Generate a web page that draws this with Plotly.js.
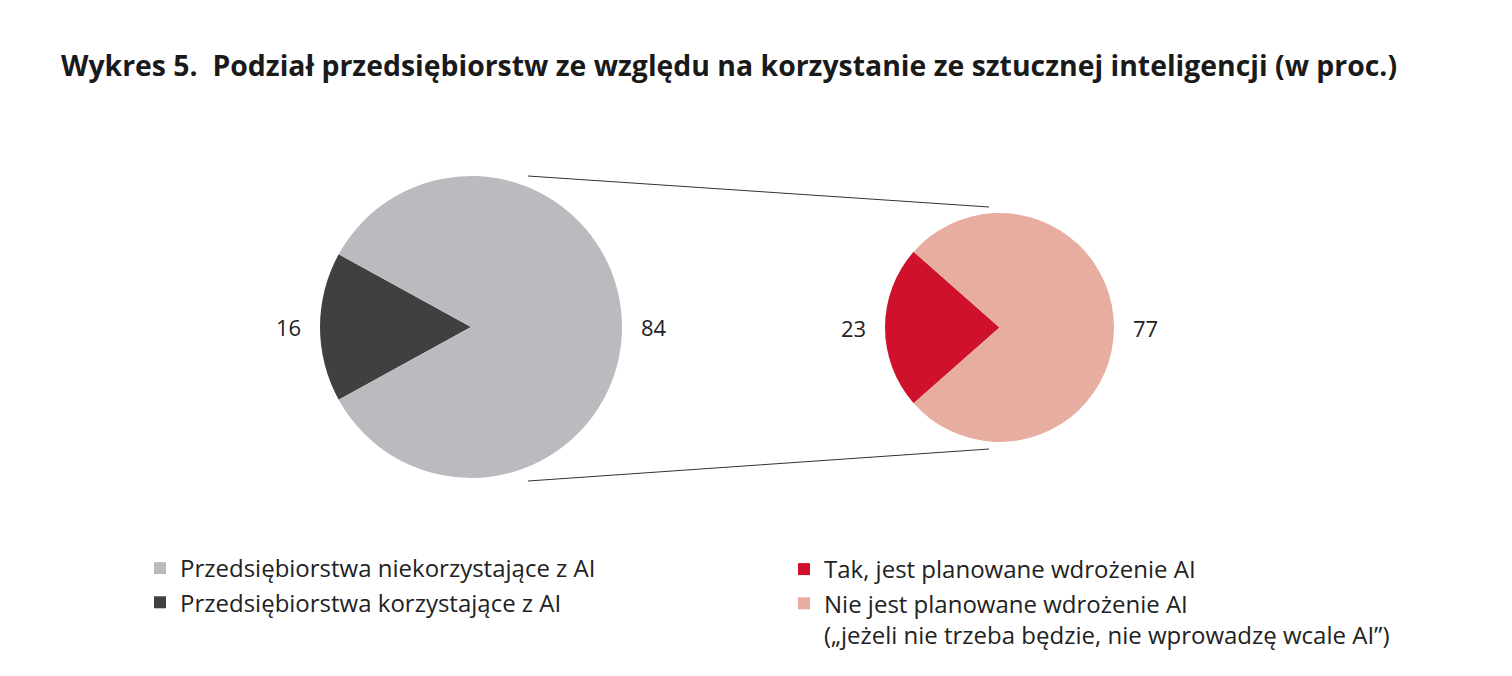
<!DOCTYPE html>
<html>
<head>
<meta charset="utf-8">
<script src="https://cdn.plot.ly/plotly-3.0.1.min.js"></script>
<style>html,body{margin:0;padding:0;background:#fff;}#chart{width:1512px;height:676px;}</style>
</head>
<body>
<div id="chart"></div>
<script>
// Data
var titleText = "Wykres 5.&nbsp;&nbsp;Podział przedsiębiorstw ze względu na korzystanie ze sztucznej inteligencji (w proc.)";
var usageLabels = ["Przedsiębiorstwa korzystające z AI", "Przedsiębiorstwa niekorzystające z AI"];
var usageValues = [16, 84];
var usageColors = ["#404040", "#b9bbbe"];
var planLabels = ["Tak, jest planowane wdrożenie AI", "Nie jest planowane wdrożenie AI<br>(„jeżeli nie trzeba będzie, nie wprowadzę wcale AI”)"];
var planValues = [23, 77];
var planColors = ["#cf112c", "#e7ada1"];

function sum(a){return a.reduce(function(s,v){return s+v;},0);}
// rotate so the first slice is centred at 9 o'clock
function rot(vals){return 270 - vals[0]/sum(vals)*180;}

var W = 1512, H = 676;
function px(x){return x/W;}
function py(y){return 1 - y/H;}

var font = "Open Sans, sans-serif";
// left-slice label padded on the right, right-slice label padded on the left
var labelTemplates = ["%{value}&nbsp;&nbsp;", "&nbsp;&nbsp;%{value}"];

var traces = [
  {
    type: "pie",
    labels: usageLabels,
    values: usageValues,
    marker: {colors: usageColors, line: {width: 0}},
    sort: false,
    direction: "clockwise",
    rotation: rot(usageValues),
    texttemplate: labelTemplates,
    textposition: "outside",
    outsidetextfont: {size: 22, color: "#222", family: font},
    hoverinfo: "label+value",
    domain: {x: [px(320), px(622)], y: [py(478), py(176)]},
    legend: "legend",
    showlegend: true
  },
  {
    type: "pie",
    labels: planLabels,
    values: planValues,
    marker: {colors: planColors, line: {width: 0}},
    sort: false,
    direction: "clockwise",
    rotation: rot(planValues),
    texttemplate: labelTemplates,
    textposition: "outside",
    outsidetextfont: {size: 22, color: "#222", family: font},
    hoverinfo: "label+value",
    domain: {x: [px(885), px(1114)], y: [py(442), py(213)]},
    legend: "legend2",
    showlegend: true
  }
];

var layout = {
  width: W, height: H,
  margin: {l: 0, r: 0, t: 0, b: 0},
  paper_bgcolor: "#fff",
  font: {family: font, color: "#222"},
  title: {
    text: "<b>" + titleText + "</b>",
    font: {family: font, size: 28.4, color: "#1a1a1a"},
    x: px(61), xanchor: "left",
    y: py(66), yanchor: "middle"
  },
  shapes: [
    {type: "line", xref: "paper", yref: "paper", x0: px(528), y0: py(176), x1: px(989), y1: py(207), line: {color: "#333", width: 1}},
    {type: "line", xref: "paper", yref: "paper", x0: px(528), y0: py(481), x1: px(989), y1: py(449), line: {color: "#333", width: 1}}
  ],
  legend: {
    x: px(140), xanchor: "left", y: py(546), yanchor: "top",
    font: {family: font, size: 24, color: "#222"},
    traceorder: "reversed",
    valign: "top", bgcolor: "rgba(0,0,0,0)"
  },
  legend2: {
    x: px(784), xanchor: "left", y: py(547), yanchor: "top",
    font: {family: font, size: 24, color: "#222"},
    valign: "top", bgcolor: "rgba(0,0,0,0)"
  },
  showlegend: true
};

Plotly.newPlot("chart", traces, layout, {displayModeBar: false, staticPlot: true});
</script>
</body>
</html>
